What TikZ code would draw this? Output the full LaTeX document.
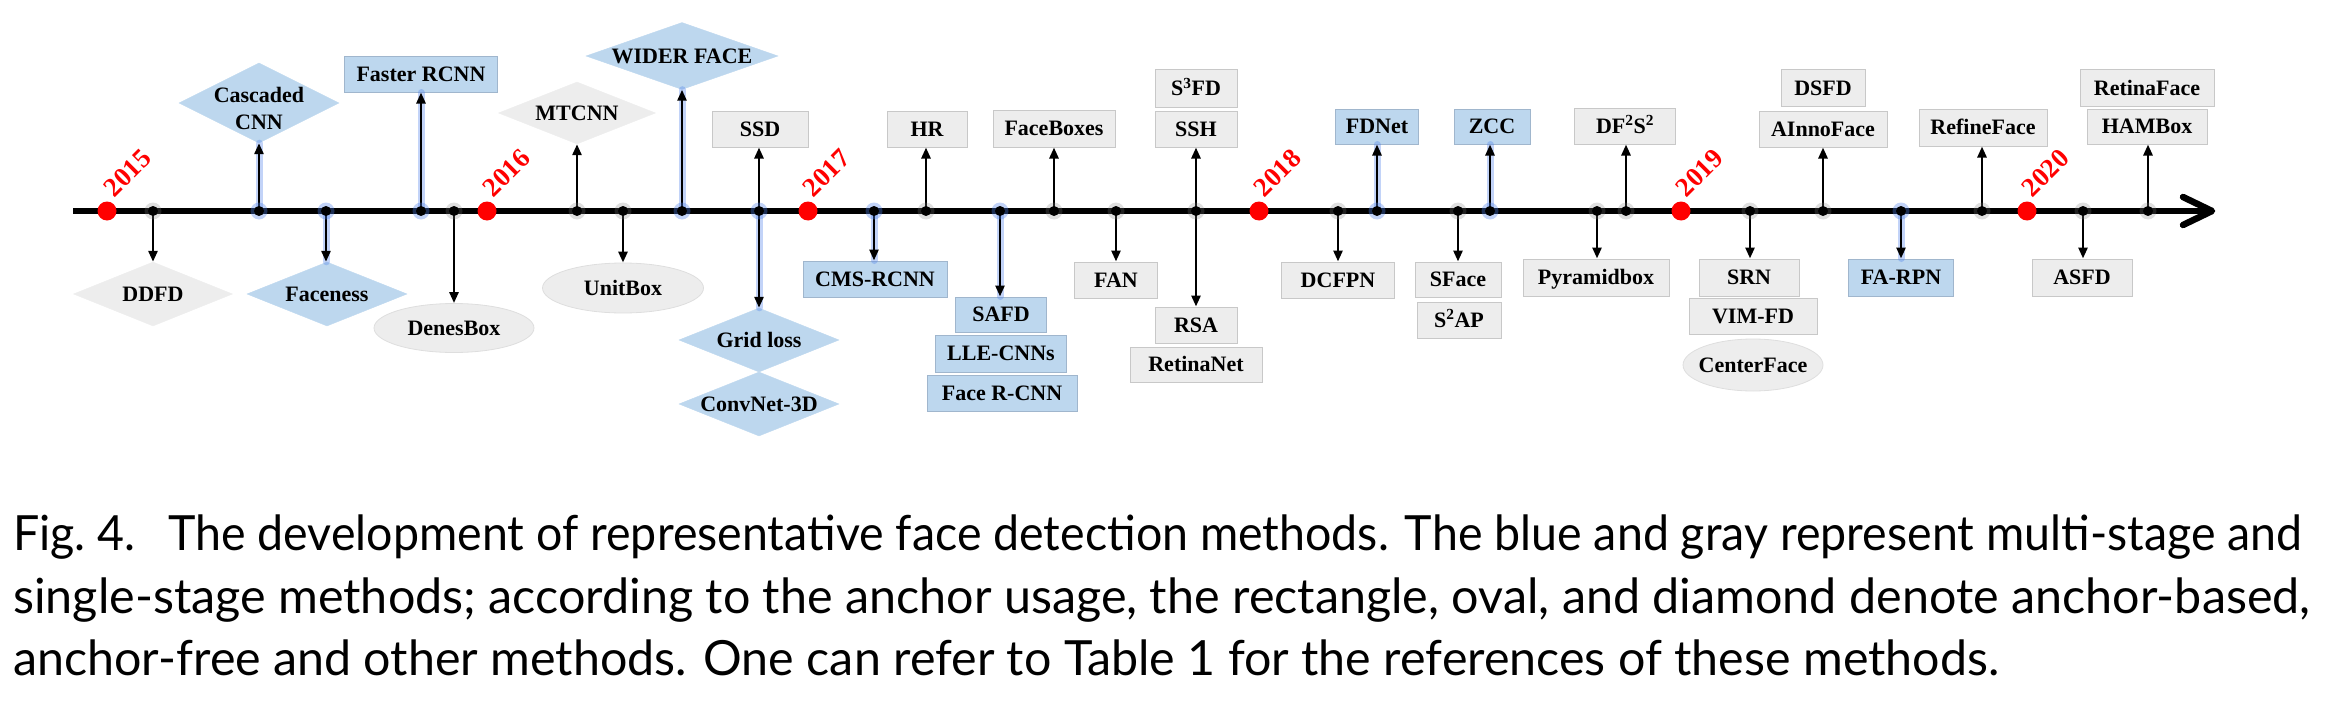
\documentclass[tikz,border=0pt]{standalone}
\usepackage{fontspec}
\usepackage{graphicx}
\setmainfont{Liberation Serif}
\newfontfamily\capfont{Lato}
\usetikzlibrary{shapes.geometric,arrows.meta}
\definecolor{bfill}{RGB}{189,215,238}
\definecolor{bdraw}{RGB}{160,182,205}
\definecolor{gfill}{RGB}{237,237,237}
\definecolor{gdraw}{RGB}{200,200,200}
\definecolor{glowc}{RGB}{80,130,235}
\tikzset{
  sz/.style 2 args={minimum width=#1pt, minimum height=#2pt},
  lab/.style={font=\fontsize{22}{27}\selectfont\bfseries, inner sep=0pt, align=center, text=black, text height=14.6pt, text depth=0pt},
  lab2/.style={font=\fontsize{22}{27}\selectfont\bfseries, inner sep=0pt, align=center, text=black},
  brect/.style={lab, rectangle, fill=bfill, draw=bdraw, line width=1pt},
  grect/.style={lab, rectangle, fill=gfill, draw=gdraw, line width=1pt},
  bdiam/.style={diamond, fill=bfill, draw=bfill, inner sep=0pt},
  gdiam/.style={diamond, fill=gfill, draw=gfill, inner sep=0pt},
  gell/.style={ellipse, fill=gfill, draw=gdraw!60, line width=0.8pt, inner sep=0pt},
  conn/.style={line width=2.6pt, -{Triangle[length=11pt,width=9pt]}},
  glowl/.style={line width=7pt, draw=glowc, opacity=0.35, line cap=round},
  tickdot/.style={circle, fill=black, inner sep=0pt, minimum size=10pt},
  tickhalo/.style={circle, fill=gray, opacity=0.25, inner sep=0pt, minimum size=17pt},
  bhalo/.style={circle, fill=glowc, opacity=0.35, inner sep=0pt, minimum size=17pt},
  yeardot/.style={circle, fill=red, inner sep=0pt, minimum size=19pt},
  yearlab/.style={font=\fontsize{27}{30}\selectfont\bfseries, text=red, rotate=45, anchor=south west, inner sep=0pt},
  captext/.style={font=\capfont\fontsize{48.5}{58}\selectfont, anchor=base west, inner sep=0pt},
}
\begin{document}
\begin{tikzpicture}[x=1pt,y=-1pt]
\useasboundingbox (0,0) rectangle (2328,701);

% ---------- method nodes ----------
\node[gdiam, sz={159}{64}] (ddfd) at (153,294) {};
\node[lab] (ddfdT) at (ddfd) {DDFD};
\node[bdiam, sz={160}{80}] (casc) at (259,103) {};
\node[lab2] (cascT) at (259,108.5) {Cascaded\\CNN};
\node[bdiam, sz={160}{64}] (facen) at (327,294) {};
\node[lab] (facenT) at (facen) {Faceness};
\node[brect, sz={153}{35}] (frcnn) at (421,74.5) {Faster RCNN};
\node[gell, sz={160}{49}] (denes) at (454,328) {};
\node[lab] (denesT) at (denes) {DenesBox};
\node[gdiam, sz={157}{62}] (mtcnn) at (577,113) {};
\node[lab] (mtcnnT) at (mtcnn) {MTCNN};
\node[gell, sz={161}{50}] (unitb) at (623,288) {};
\node[lab] (unitbT) at (unitb) {UnitBox};
\node[bdiam, sz={192}{67}] (wider) at (682,56) {};
\node[lab] (widerT) at (wider) {WIDER FACE};
\node[grect, sz={96}{36}] (ssd) at (760,129) {SSD};
\node[bdiam, sz={160}{64}] (grid) at (759,340) {};
\node[lab] (gridT) at (grid) {Grid loss};
\node[bdiam, sz={160}{64}] (conv) at (759,404) {};
\node[lab] (convT) at (conv) {ConvNet-3D};
\node[brect, sz={144}{36}] (cms) at (875,279) {CMS-RCNN};
\node[grect, sz={80}{36}] (hr) at (927,129) {HR};
\node[brect, sz={91}{35}] (safd) at (1001,314.5) {SAFD};
\node[brect, sz={131}{37}] (lle) at (1001,353.5) {LLE-CNNs};
\node[brect, sz={150}{36}] (frc) at (1002,393) {Face R-CNN};
\node[grect, sz={122}{37}] (fboxes) at (1054,128.5) {FaceBoxes};
\node[grect, sz={83}{36}] (fan) at (1116,280) {FAN};
\node[grect, sz={82}{37}] (s3fd) at (1196,88.5) {S\textsuperscript{3}FD};
\node[grect, sz={82}{36}] (ssh) at (1196,129) {SSH};
\node[grect, sz={82}{36}] (rsa) at (1196,325) {RSA};
\node[grect, sz={132}{35}] (rnet) at (1196,364.5) {RetinaNet};
\node[grect, sz={113}{36}] (dcfpn) at (1338,280) {DCFPN};
\node[brect, sz={83}{35}] (fdnet) at (1377,126.5) {FDNet};
\node[grect, sz={86}{35}] (sface) at (1458,279.5) {SFace};
\node[grect, sz={84}{36}] (s2ap) at (1459,320) {S\textsuperscript{2}AP};
\node[brect, sz={76}{35}] (zcc) at (1492,126.5) {ZCC};
\node[grect, sz={146}{37}] (pyr) at (1596,277.5) {Pyramidbox};
\node[grect, sz={101}{36}] (df2s2) at (1625,126) {DF\textsuperscript{2}S\textsuperscript{2}};
\node[grect, sz={100}{37}] (srn) at (1749,277.5) {SRN};
\node[grect, sz={128}{36}] (vim) at (1753,316) {VIM-FD};
\node[gell, sz={140}{52}] (center) at (1753,365) {};
\node[lab] (centerT) at (center) {CenterFace};
\node[grect, sz={84}{36}] (dsfd) at (1823,88) {DSFD};
\node[grect, sz={128}{36}] (ainno) at (1823,129) {AInnoFace};
\node[brect, sz={105}{37}] (farpn) at (1901,277.5) {FA-RPN};
\node[grect, sz={128}{37}] (refine) at (1983,127.5) {RefineFace};
\node[grect, sz={100}{37}] (asfd) at (2082,277.5) {ASFD};
\node[grect, sz={134}{36}] (rface) at (2147,88) {RetinaFace};
\node[grect, sz={120}{35}] (hambox) at (2147,126.5) {HAMBox};

% ---------- axis ----------
\coordinate (axs) at (73,211);
\coordinate (axe) at (2212,211);
\coordinate (ahu) at (2183,197);
\coordinate (ahd) at (2183,225);
\draw[line width=6.5pt] (axs) -- (axe);
\draw[line width=6.5pt, line cap=round, line join=round] (ahu) -- (axe) -- (ahd);

% ---------- tick coordinates ----------
\coordinate (tddfd) at (153,211);
\coordinate (tcasc) at (259,211);
\coordinate (tfacen) at (326,211);
\coordinate (tfrcnn) at (421,211);
\coordinate (tdenes) at (454,211);
\coordinate (tmtcnn) at (577,211);
\coordinate (tunitb) at (623,211);
\coordinate (twider) at (682,211);
\coordinate (tssd) at (759,211);
\coordinate (tcms) at (874,211);
\coordinate (thr) at (926,211);
\coordinate (tsafd) at (1000,211);
\coordinate (tfboxes) at (1054,211);
\coordinate (tfan) at (1116,211);
\coordinate (tssh) at (1196,211);
\coordinate (tdcfpn) at (1338,211);
\coordinate (tfdnet) at (1377,211);
\coordinate (tsface) at (1458,211);
\coordinate (tzcc) at (1490,211);
\coordinate (tpyr) at (1597,211);
\coordinate (tdf) at (1626,211);
\coordinate (tsrn) at (1750,211);
\coordinate (tainno) at (1823,211);
\coordinate (tfarpn) at (1901,211);
\coordinate (trefine) at (1982,211);
\coordinate (tasfd) at (2083,211);
\coordinate (tham) at (2148,211);

% ---------- glows for multi-stage (blue) ----------
\foreach \t/\n/\a in {tcasc/casc/south, tfrcnn/frcnn/south, twider/wider/south, tfdnet/fdnet/south, tzcc/zcc/south,
                      tfacen/facen/north, tssd/grid/north, tcms/cms/north, tsafd/safd/north, tfarpn/farpn/north}
  {\draw[glowl] (\t) -- (\t |- \n.\a);}

% ---------- connectors ----------
\foreach \t/\n in {tcasc/casc, tfrcnn/frcnn, tmtcnn/mtcnn, twider/wider, tssd/ssd, thr/hr, tfboxes/fboxes,
                   tssh/ssh, tfdnet/fdnet, tzcc/zcc, tdf/df2s2, tainno/ainno, trefine/refine, tham/hambox}
  {\draw[conn] (\t) -- (\t |- \n.south);}
\foreach \t/\n in {tddfd/ddfd, tfacen/facen, tdenes/denes, tunitb/unitb, tssd/grid, tcms/cms, tsafd/safd,
                   tfan/fan, tssh/rsa, tdcfpn/dcfpn, tsface/sface, tpyr/pyr, tsrn/srn, tfarpn/farpn, tasfd/asfd}
  {\draw[conn] (\t) -- (\t |- \n.north);}

% ---------- tick dots ----------
\foreach \t in {tddfd,tdenes,tmtcnn,tunitb,thr,tfboxes,tfan,tssh,tdcfpn,tsface,tpyr,tdf,tsrn,tainno,trefine,tasfd,tham}
  {\node[tickhalo] at (\t) {}; \node[tickdot] at (\t) {};}
\foreach \t in {tcasc,tfacen,tfrcnn,twider,tssd,tcms,tsafd,tfdnet,tzcc,tfarpn}
  {\node[bhalo] at (\t) {}; \node[tickdot] at (\t) {};}

% ---------- years ----------
\node[yeardot] (y2015) at (107,211) {};
\node[yeardot] (y2016) at (487,211) {};
\node[yeardot] (y2017) at (808,211) {};
\node[yeardot] (y2018) at (1259,211) {};
\node[yeardot] (y2019) at (1681,211) {};
\node[yeardot] (y2020) at (2027,211) {};
\node[yearlab] (l2015) at (115,199) {2015};
\node[yearlab] (l2016) at (494,199) {2016};
\node[yearlab] (l2017) at (814,199) {2017};
\node[yearlab] (l2018) at (1265,199) {2018};
\node[yearlab] (l2019) at (1687,199) {2019};
\node[yearlab] (l2020) at (2033,199) {2020};

% ---------- caption ----------
\node[captext] (cap1) at (13,550) {\resizebox{2289pt}{\height}{Fig.~4.\hspace{0.7em}The development of representative face detection methods. The blue and gray represent multi-stage and}};
\node[captext] (cap2) at (13,613) {\resizebox{2297pt}{\height}{single-stage methods; according to the anchor usage, the rectangle, oval, and diamond denote anchor-based,}};
\node[captext] (cap3) at (13,675) {\resizebox{1986pt}{\height}{anchor-free and other methods. One can refer to Table 1 for the references of these methods.}};
\end{tikzpicture}
\end{document}
